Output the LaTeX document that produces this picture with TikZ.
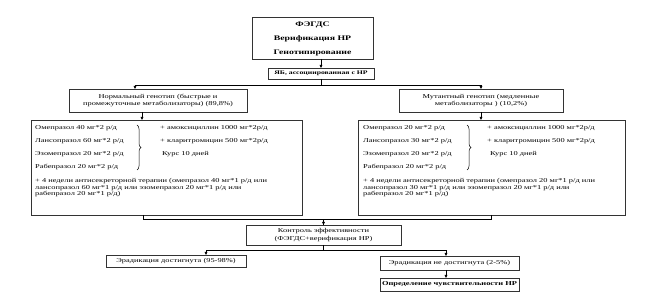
\documentclass[tikz,border=0pt]{standalone}
\usepackage{fontspec}
\setmainfont[FakeStretch=1.4]{Liberation Serif}
\usetikzlibrary{shadows,arrows.meta,decorations.pathreplacing}
\begin{document}
\begin{tikzpicture}[x=1pt,y=-1pt,
  box/.style={draw=black!80, line width=0.6pt, fill=white, inner sep=0pt, outer sep=0pt,
    drop shadow={shadow xshift=0.8pt, shadow yshift=-0.8pt, opacity=0.45}},
  txt/.style={inner sep=0pt, anchor=west, font=\fontsize{6}{7}\selectfont},
  ctxt/.style={inner sep=0pt, align=center, font=\fontsize{6}{7.2}\selectfont},
  btxt/.style={inner sep=0pt, font=\fontsize{7}{8}\selectfont\bfseries},
  arr/.style={-{Triangle[length=3pt,width=2.6pt]}, line width=0.5pt},
  ln/.style={line width=0.5pt},
  brc/.style={decorate, decoration={brace, amplitude=4pt}, line width=0.5pt}]
\useasboundingbox[fill=white] (0,0) rectangle (646,304);

% boxes
\node[box, minimum width=121pt, minimum height=42pt] (top) at (312.5,38) {};
\node[btxt] (t1) at (312.5,24.5) {ФЭГДС};
\node[btxt] (t2) at (312.5,38.5) {Верификация НР};
\node[btxt] (t3) at (312.5,52.5) {Генотипирование};

\node[box, minimum width=106pt, minimum height=11pt, font=\fontsize{5.5}{6}\selectfont\bfseries] (yab) at (321,73.5) {ЯБ, ассоциированная с НР};

\node[box, minimum width=178pt, minimum height=23pt] (normal) at (158,100.5) {};
\node[ctxt] (normalt) at (158,100.5) {Нормальный генотип (быстрые и\\промежуточные метаболизаторы) (89,8\%)};

\node[box, minimum width=164pt, minimum height=23pt] (mutant) at (481,100.5) {};
\node[ctxt] (mutantt) at (481,100.5) {Мутантный генотип (медленные\\метаболизаторы ) (10,2\%)};

\node[box, minimum width=271pt, minimum height=95pt] (leftbig) at (166.5,167.5) {};
\node[box, minimum width=267pt, minimum height=95pt] (rightbig) at (491.5,167.5) {};

% left box content
\node[txt] (l1) at (35,128) {Омепразол 40 мг*2 р/д};
\node[txt] (l2) at (35,141) {Лансопразол 60 мг*2 р/д};
\node[txt] (l3) at (35,154) {Эзомепразол 20 мг*2 р/д};
\node[txt] (l4) at (35,167) {Рабепразол 20 мг*2 р/д};
\draw[brc] (137,125) -- (137,170);
\node[txt] (l5) at (160,128) {+ амоксициллин 1000 мг*2р/д};
\node[txt] (l6) at (160,141) {+ кларитромицин 500 мг*2р/д};
\node[txt] (l7) at (162,154) {Курс 10 дней};
\node[txt] (l8) at (35,181) {+ 4 недели антисекреторной терапии (омепразол 40 мг*1 р/д или};
\node[txt] (l9) at (35,187.7) {лансопразол 60 мг*1 р/д или эзомепразол 20 мг*1 р/д или};
\node[txt] (l10) at (35,194.4) {рабепразол 20 мг*1 р/д)};

% right box content
\node[txt] (r1) at (363,128) {Омепразол 20 мг*2 р/д};
\node[txt] (r2) at (363,141) {Лансопразол 30 мг*2 р/д};
\node[txt] (r3) at (363,154) {Эзомепразол 20 мг*2 р/д};
\node[txt] (r4) at (363,167) {Рабепразол 20 мг*2 р/д};
\draw[brc] (467,125) -- (467,170);
\node[txt] (r5) at (487,128) {+ амоксициллин 1000 мг*2р/д};
\node[txt] (r6) at (487,141) {+ кларитромицин 500 мг*2р/д};
\node[txt] (r7) at (490,154) {Курс 10 дней};
\node[txt] (r8) at (363,181) {+ 4 недели антисекреторной терапии (омепразол 20 мг*1 р/д или};
\node[txt] (r9) at (363,187.7) {лансопразол 30 мг*1 р/д или эзомепразол 20 мг*1 р/д или};
\node[txt] (r10) at (363,194.4) {рабепразол 20 мг*1 р/д)};

\node[box, minimum width=155pt, minimum height=20pt] (control) at (323.5,235) {};
\node[ctxt] (controlt) at (323.5,235) {Контроль эффективности\\(ФЭГДС+верификация НР)};

\node[box, minimum width=140pt, minimum height=12pt, font=\fontsize{6}{7}\selectfont] (res1) at (176,261) {Эрадикация достигнута (95-98\%)};
\node[box, minimum width=139pt, minimum height=14pt, font=\fontsize{6}{7}\selectfont] (res2) at (449.5,263) {Эрадикация не достигнута (2-5\%)};
\node[box, minimum width=139pt, minimum height=13pt, font=\fontsize{6}{7}\selectfont\bfseries] (last) at (449.5,284.5) {Определение чувствительности НР};

% connectors
\draw[arr] (top.south -| yab.north) -- (yab.north);
\draw[ln] (yab.south) -- ++(0,6) coordinate (split1);
\draw[arr] (split1) -| ([xshift=-23pt]normal.north);
\draw[arr] (split1) -| (mutant.north);
\draw[arr] ([xshift=-16pt]normal.south) -- ([xshift=-16pt]normal.south |- leftbig.north);
\draw[arr] (mutant.south) -- (mutant.south |- rightbig.north);
\draw[arr] ([xshift=-23.5pt]leftbig.south) -- ++(0,4) -| (control.north);
\draw[ln] ([xshift=-0.5pt]rightbig.south) -- ++(0,4) -| (control.north);
\draw[ln] (control.south) -- ++(0,5) coordinate (split2);
\draw[arr] (split2) -| ([xshift=30pt]res1.north);
\draw[arr] (split2) -| ([xshift=-3.5pt]res2.north);
\draw[arr] ([xshift=-3.5pt]res2.south) -- ([xshift=-3.5pt]last.north);
\end{tikzpicture}
\end{document}
